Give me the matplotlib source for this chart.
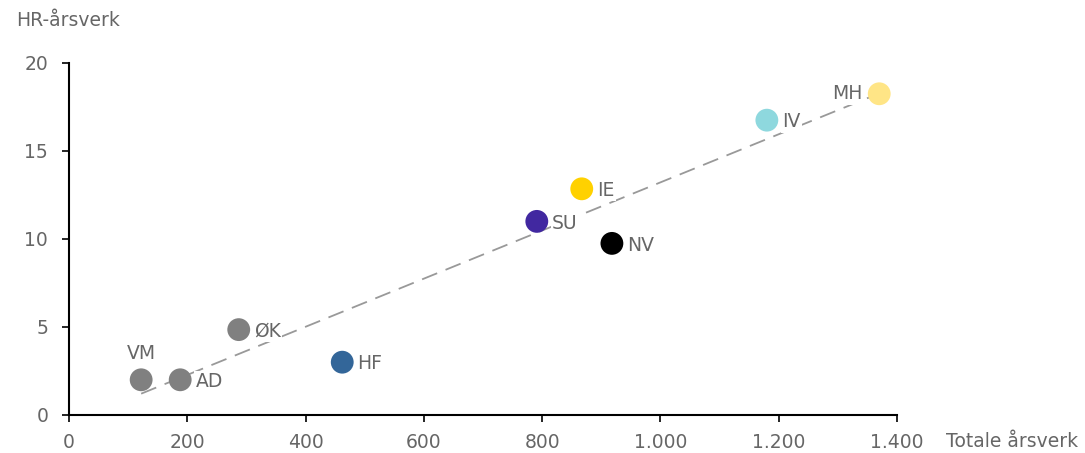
import numpy as np
import matplotlib
matplotlib.use("Agg")
import matplotlib.pyplot as plt
from matplotlib.ticker import FuncFormatter

plt.rcParams["font.family"] = ["DejaVu Sans"]

# data
units = ["VM", "AD", "ØK", "HF", "SU", "IE", "NV", "IV", "MH"]
total_fte = [122, 188, 287, 462, 791, 867, 918, 1180, 1370]
hr_fte = [2.0, 2.0, 4.85, 3.0, 11.0, 12.85, 9.75, 16.75, 18.25]
colors = ["#808080", "#808080", "#808080", "#336699", "#4128A0",
          "#FFD100", "#000000", "#8ED8DE", "#FFE586"]

text_col = "#666666"
fs = 13.5

fig = plt.figure(figsize=(10.85, 4.53), dpi=100)
ax = fig.add_axes([0.0636, 0.0839, 0.7631, 0.7771])

# linear trend line
k, m = np.polyfit(total_fte, hr_fte, 1)
xs = np.array([min(total_fte), max(total_fte)])
ax.plot(xs, k * xs + m, ls=(0, (9, 5)), color="#999999", lw=1.3, zorder=1)

ax.scatter(total_fte, hr_fte, s=270, c=colors, edgecolors="none", zorder=3)

for name, x, y in zip(units, total_fte, hr_fte):
    if name == "VM":
        ax.annotate(name, (x, y), xytext=(0, 19), textcoords="offset points",
                    ha="center", va="center", fontsize=fs, color=text_col)
    elif name == "MH":
        ax.annotate(name, (x, y), xytext=(-12, 0), textcoords="offset points",
                    ha="right", va="center", fontsize=fs, color=text_col,
                    bbox=dict(fc="white", ec="none", pad=1), zorder=2)
    else:
        ax.annotate(name, (x, y), xytext=(11, -1.2), textcoords="offset points",
                    ha="left", va="center", fontsize=fs, color=text_col,
                    bbox=dict(fc="white", ec="none", pad=1), zorder=2)

ax.set_xlim(0, 1400)
ax.set_ylim(0, 20)
ax.set_xticks(range(0, 1401, 200))
ax.set_yticks(range(0, 21, 5))
ax.xaxis.set_major_formatter(FuncFormatter(lambda v, p: f"{int(v):,}".replace(",", ".")))

for s in ["top", "right"]:
    ax.spines[s].set_visible(False)
for s in ["left", "bottom"]:
    ax.spines[s].set_linewidth(1.5)
    ax.spines[s].set_color("black")

ax.tick_params(axis="both", direction="out", length=5, width=1.2, color="black",
               labelsize=fs, labelcolor=text_col)
ax.tick_params(axis="x", pad=8)
ax.tick_params(axis="y", pad=10)

fig.text(0.015, 0.955, "HR-årsverk", fontsize=fs, color=text_col, va="center")
fig.text(0.872, 0.025, "Totale årsverk", fontsize=fs, color=text_col, va="center")

fig.savefig("out.png", dpi=100)
